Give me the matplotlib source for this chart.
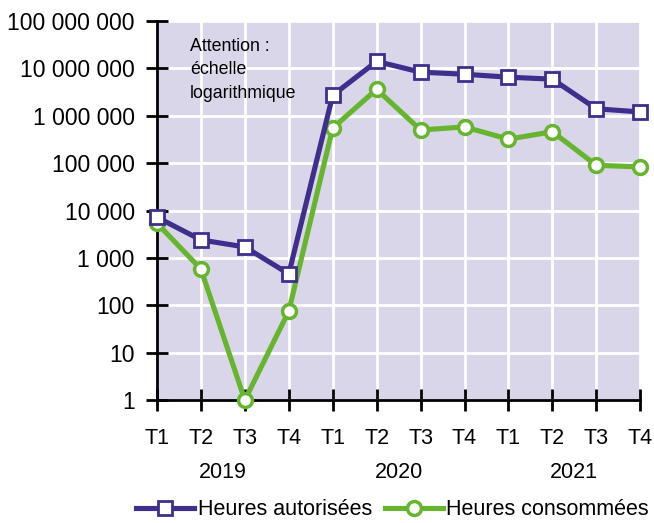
import numpy as np
import matplotlib.pyplot as plt

plt.rcParams['font.family'] = ['Liberation Sans', 'DejaVu Sans']

trimestres = ['T1', 'T2', 'T3', 'T4'] * 3
annees = ['2019', '2020', '2021']
autorisees = [7200, 2400, 1700, 460, 2.7e6, 1.4e7, 8.3e6, 7.5e6, 6.5e6, 5.9e6, 1.4e6, 1.2e6]
consommees = [5400, 580, 1, 75, 5.5e5, 3.6e6, 5.0e5, 5.8e5, 3.2e5, 4.6e5, 9.0e4, 8.3e4]
yticks = [1, 10, 100, 1000, 1e4, 1e5, 1e6, 1e7, 1e8]
ylabels = ['1', '10', '100', '1 000', '10 000', '100 000', '1 000 000', '10 000 000', '100 000 000']

violet = '#3f2e8c'
vert = '#67b52f'

fig = plt.figure(figsize=(6.54, 5.23), dpi=100)
ax = fig.add_axes([0.240, 0.235, 0.739, 0.725])
ax.set_facecolor('#dad6e9')

x = np.arange(len(trimestres))
ax.plot(x, autorisees, color=violet, lw=3.7, marker='s', ms=9.5, mfc='white',
        mec=violet, mew=2, label='Heures autorisées', zorder=4, clip_on=False)
ax.plot(x, consommees, color=vert, lw=3.7, marker='o', ms=10, mfc='white',
        mec=vert, mew=2.5, label='Heures consommées', zorder=3, clip_on=False)

ax.set_yscale('log')
ax.set_ylim(1, 1e8)
ax.set_xlim(0, len(trimestres) - 1)
ax.set_yticks(yticks)
ax.set_yticklabels(ylabels)
ax.yaxis.set_minor_locator(plt.NullLocator())
ax.set_xticks(x)
ax.set_xticklabels(trimestres)
ax.grid(True, color='white', lw=2)
ax.set_axisbelow(True)

for s in ['top', 'right']:
    ax.spines[s].set_visible(False)
for s in ['left', 'bottom']:
    ax.spines[s].set_linewidth(2)
ax.tick_params(axis='both', direction='inout', length=16, width=2)
ax.tick_params(axis='x', pad=12, labelsize=15.5)
ax.tick_params(axis='y', pad=8, labelsize=16.5)

for i, a in enumerate(annees):
    ax.text(1.5 + 4 * i, -0.19, a, transform=ax.get_xaxis_transform(),
            ha='center', va='center', fontsize=15.5)

ax.text(0.068, 0.955, 'Attention :\néchelle\nlogarithmique', transform=ax.transAxes,
        ha='left', va='top', fontsize=12.8, linespacing=1.5)

fig.legend(loc='center', bbox_to_anchor=(0.60, 0.025), ncol=2, frameon=False,
           fontsize=15.5, handlelength=2.7, columnspacing=0.6, handletextpad=0.15)

fig.savefig('out.png', dpi=100)
